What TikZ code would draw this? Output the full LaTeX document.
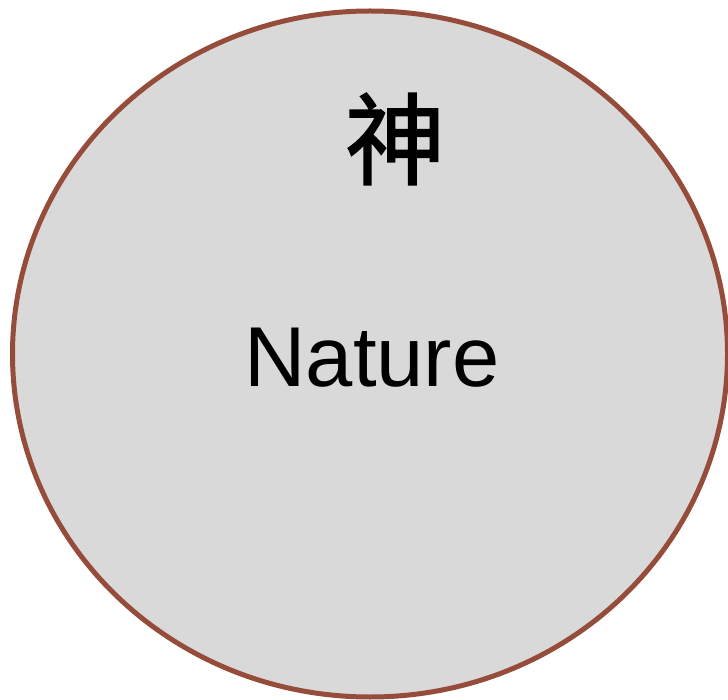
\documentclass[tikz,border=0pt]{standalone}
\usepackage{fontspec}
\setmainfont{Liberation Sans}
\newfontfamily\cjk[FakeBold=1.5]{Noto Sans CJK SC}
\definecolor{rimbrown}{RGB}{150,76,58}
\definecolor{fillgray}{RGB}{217,217,217}
\begin{document}
\begin{tikzpicture}[x=1pt,y=1pt,
  bubble/.style={draw=rimbrown,fill=fillgray,line width=5pt},
  label/.style={inner sep=0pt,text=black}]
\useasboundingbox (0,0) rectangle (728,-700);
\path[bubble] (370,-354) ellipse [x radius=357.5, y radius=343];
\node[label,font=\cjk\fontsize{100}{100}\selectfont] (god) at (395,-139) {神};
\node[label,anchor=base,font=\fontsize{85}{85}\selectfont] (nature) at (372,-387) {Nature};
\end{tikzpicture}
\end{document}
